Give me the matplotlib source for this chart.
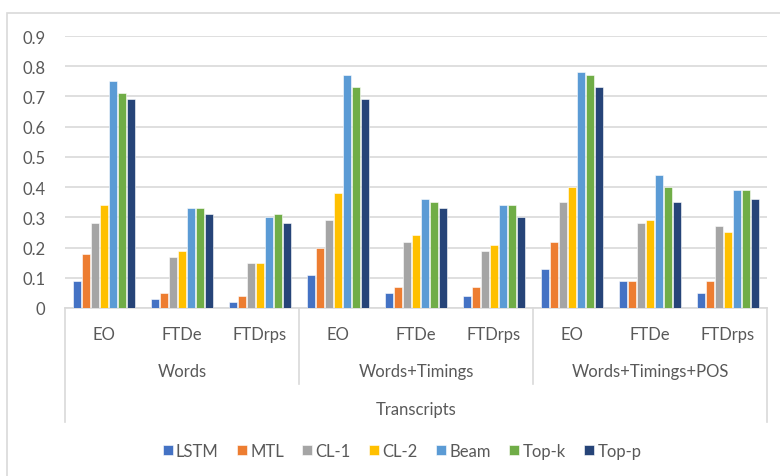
import matplotlib.pyplot as plt
import numpy as np
from matplotlib.patches import Rectangle

plt.rcParams['font.family'] = ['Lato', 'DejaVu Sans']

# data
features = ['EO', 'FTDe', 'FTDrps']
groups = ['Words', 'Words+Timings', 'Words+Timings+POS']
outer_label = 'Transcripts'
models = ['LSTM', 'MTL', 'CL-1', 'CL-2', 'Beam', 'Top-k', 'Top-p']

lstm = [0.09, 0.03, 0.02, 0.11, 0.05, 0.04, 0.13, 0.09, 0.05]
mtl = [0.18, 0.05, 0.04, 0.20, 0.07, 0.07, 0.22, 0.09, 0.09]
cl1 = [0.28, 0.17, 0.15, 0.29, 0.22, 0.19, 0.35, 0.28, 0.27]
cl2 = [0.34, 0.19, 0.15, 0.38, 0.24, 0.21, 0.40, 0.29, 0.25]
beam = [0.75, 0.33, 0.30, 0.77, 0.36, 0.34, 0.78, 0.44, 0.39]
topk = [0.71, 0.33, 0.31, 0.73, 0.35, 0.34, 0.77, 0.40, 0.39]
topp = [0.69, 0.31, 0.28, 0.69, 0.33, 0.30, 0.73, 0.35, 0.36]

series = [lstm, mtl, cl1, cl2, beam, topk, topp]
colors = ['#4472C4', '#ED7D31', '#A5A5A5', '#FFC000', '#5B9BD5', '#70AD47', '#264478']

txt = '#595959'
grid = '#d9d9d9'
fs = 12

W, H = 780, 477
fig = plt.figure(figsize=(W / 100, H / 100), dpi=100)

# outer chart border (cut off on right and bottom)
fig.patches.append(Rectangle((6.5 / W, -0.1), 2, 1.1 - 13.5 / H, transform=fig.transFigure,
                             fill=False, edgecolor=grid, linewidth=1.2))

ax_left, ax_right, ax_top, ax_bot = 65, 767, 37, 309
ax = fig.add_axes([ax_left / W, 1 - ax_bot / H, (ax_right - ax_left) / W, (ax_bot - ax_top) / H])

n_cat = len(features) * len(groups)
x = np.arange(n_cat)
pitch = 0.115
bw = 0.094
for i, (vals, c, name) in enumerate(zip(series, colors, models)):
    off = (i - 3) * pitch
    ax.bar(x + off, vals, width=bw, color=c, label=name, edgecolor='white', linewidth=0.4, zorder=3)

ax.set_xlim(-0.5, n_cat - 0.5)
ax.set_ylim(0, 0.9)
ax.set_yticks(np.arange(0, 0.91, 0.1))
ax.set_yticklabels(['0'] + ['%.1f' % v for v in np.arange(0.1, 0.91, 0.1)])
ax.yaxis.grid(True, color=grid, linewidth=1.2, zorder=0)
ax.tick_params(axis='y', length=0, pad=14, labelsize=fs, labelcolor=txt)
ax.set_xticks([])
for s in ['top', 'right', 'left']:
    ax.spines[s].set_visible(False)
ax.spines['bottom'].set_color(grid)
ax.spines['bottom'].set_linewidth(1.2)

# multi-level category axis
tr = ax.get_xaxis_transform()
h_ax = ax_bot - ax_top
def yfrac(py):
    return (ax_bot - py) / h_ax

for j in range(n_cat):
    ax.text(x[j], yfrac(335), features[j % 3], transform=tr, ha='center', va='center',
            fontsize=fs, color=txt)
for g, name in enumerate(groups):
    ax.text(3 * g + 1, yfrac(372), name, transform=tr, ha='center', va='center',
            fontsize=fs, color=txt)
ax.text((n_cat - 1) / 2, yfrac(410), outer_label, transform=tr, ha='center', va='center',
        fontsize=fs, color=txt)

for b in [2.5, 5.5]:
    ax.plot([b, b], [0, yfrac(385)], transform=tr, color=grid, linewidth=1.2, clip_on=False)
for b in [-0.5, n_cat - 0.5]:
    ax.plot([b, b], [0, yfrac(423)], transform=tr, color=grid, linewidth=1.2, clip_on=False)

fig.legend(loc='center', bbox_to_anchor=(402 / W, 1 - 452 / H), ncol=7, frameon=False,
           handlelength=0.6, handleheight=0.6, handletextpad=0.2, columnspacing=1.1,
           fontsize=fs, labelcolor=txt)

fig.savefig('out.png', dpi=100)
